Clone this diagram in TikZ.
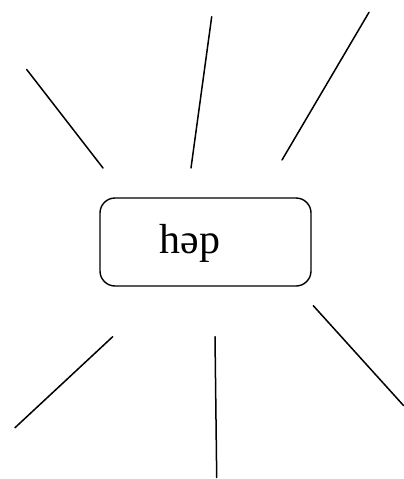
\documentclass[tikz,border=0pt]{standalone}
\usepackage{fontspec}
\setmainfont{Liberation Serif}
\usetikzlibrary{positioning}

\tikzset{ray/.style={line width=1.5pt},
  wordbox/.style={draw,line width=1.4pt,rounded corners=15pt,minimum width=211pt,minimum height=88pt,inner sep=0pt}}

\begin{document}
\begin{tikzpicture}[line cap=round,line join=round,x=1pt,y=-1pt]
				\useasboundingbox (0,0) rectangle (404,479);
				\node [wordbox] (box) at (205.5,242) {};
				\node [anchor=base west,inner sep=0pt,font=\fontsize{42}{42}\selectfont] (word) at (159.5,253) {həp};
				\coordinate (a1) at (26.7,69.5);
				\coordinate (a2) at (103,168);
				\coordinate (b1) at (211.7,16.7);
				\coordinate (b2) at (191,168);
				\coordinate (c1) at (369,12.3);
				\coordinate (c2) at (282,160);
				\coordinate (d1) at (112.7,336.7);
				\coordinate (d2) at (15,427.7);
				\coordinate (e1) at (215,336.7);
				\coordinate (e2) at (216.7,477.5);
				\coordinate (f1) at (313.3,305.7);
				\coordinate (f2) at (403.5,405.5);
				\draw [ray] (a1)-- (a2);
				\draw [ray] (b1)-- (b2);
				\draw [ray] (c1)-- (c2);
				\draw [ray] (d1)-- (d2);
				\draw [ray] (e1)-- (e2);
				\draw [ray] (f1)-- (f2);
			\end{tikzpicture}
\end{document}
